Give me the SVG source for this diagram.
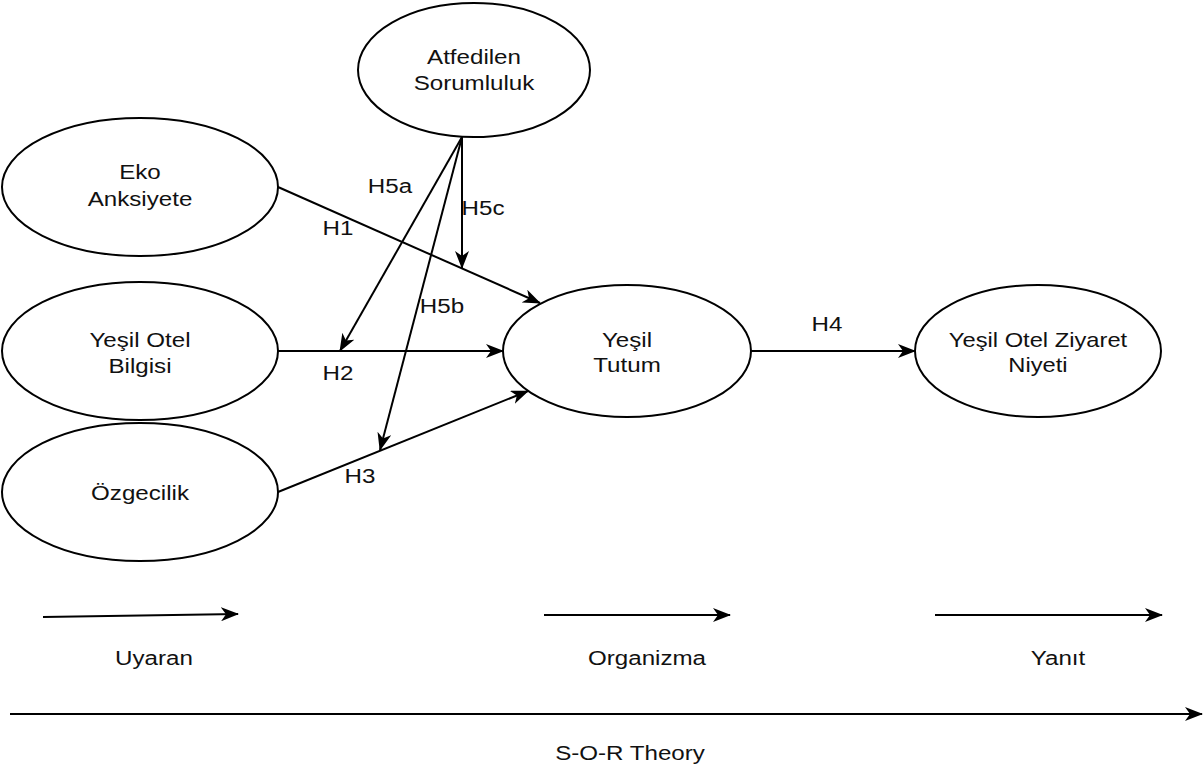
<svg xmlns="http://www.w3.org/2000/svg" width="1203" height="769" viewBox="0 0 1203 769">
<defs>
<marker id="arr" viewBox="0 0 18 14" refX="17" refY="7" markerWidth="18" markerHeight="14" markerUnits="userSpaceOnUse" orient="auto">
<path d="M0,0 L18,7 L0,14 L5,7 Z" fill="#000"/>
</marker>
<style>
.n ellipse{fill:#fff;stroke:#000;stroke-width:2}
text{font-family:"Liberation Sans",Arial,sans-serif;font-size:21px;fill:#111;text-anchor:middle}
.c line{stroke:#000;stroke-width:2;marker-end:url(#arr)}
</style>
</defs>
<rect width="1203" height="769" fill="#fff"/>
<g class="c" id="connectors">
<line x1="278" y1="187" x2="540" y2="303"/>
<line x1="278" y1="351" x2="503" y2="351"/>
<line x1="278" y1="492" x2="528" y2="391"/>
<line x1="462" y1="137" x2="340" y2="351"/>
<line x1="462" y1="137" x2="380" y2="450"/>
<line x1="462" y1="137" x2="462" y2="268"/>
<line x1="750" y1="351" x2="915" y2="351"/>
<line x1="43" y1="617" x2="238" y2="614"/>
<line x1="544" y1="615" x2="730" y2="615"/>
<line x1="935" y1="615" x2="1162" y2="615"/>
<line x1="10" y1="714" x2="1202" y2="714"/>
</g>
<g class="n" id="atfedilen"><ellipse cx="474" cy="70" rx="116" ry="67"/><text transform="translate(474 64) scale(1.15 1)">Atfedilen</text><text transform="translate(474 90) scale(1.15 1)">Sorumluluk</text></g>
<g class="n" id="eko"><ellipse cx="140" cy="187" rx="138" ry="69"/><text transform="translate(140 179) scale(1.15 1)">Eko</text><text transform="translate(140 206) scale(1.15 1)">Anksiyete</text></g>
<g class="n" id="bilgi"><ellipse cx="140" cy="351" rx="138" ry="69"/><text transform="translate(140 347) scale(1.15 1)">Yeşil Otel</text><text transform="translate(140 373) scale(1.15 1)">Bilgisi</text></g>
<g class="n" id="ozgecilik"><ellipse cx="140" cy="492" rx="138" ry="69"/><text transform="translate(140 500) scale(1.15 1)">Özgecilik</text></g>
<g class="n" id="tutum"><ellipse cx="627" cy="351" rx="124" ry="66"/><text transform="translate(627 347) scale(1.15 1)">Yeşil</text><text transform="translate(627 372) scale(1.15 1)">Tutum</text></g>
<g class="n" id="niyet"><ellipse cx="1038" cy="351" rx="123" ry="66"/><text transform="translate(1038 347) scale(1.13 1)">Yeşil Otel Ziyaret</text><text transform="translate(1038 372) scale(1.13 1)">Niyeti</text></g>
<g id="labels">
<text transform="translate(390 193) scale(1.15 1)">H5a</text>
<text transform="translate(483 215) scale(1.15 1)">H5c</text>
<text transform="translate(338 235) scale(1.15 1)">H1</text>
<text transform="translate(442 313) scale(1.15 1)">H5b</text>
<text transform="translate(338 380) scale(1.15 1)">H2</text>
<text transform="translate(360 483) scale(1.15 1)">H3</text>
<text transform="translate(827 331) scale(1.15 1)">H4</text>
<text transform="translate(154 665) scale(1.15 1)">Uyaran</text>
<text transform="translate(647 665) scale(1.15 1)">Organizma</text>
<text transform="translate(1058 665) scale(1.15 1)">Yanıt</text>
<text transform="translate(630 760) scale(1.15 1)">S-O-R Theory</text>
</g>
</svg>
